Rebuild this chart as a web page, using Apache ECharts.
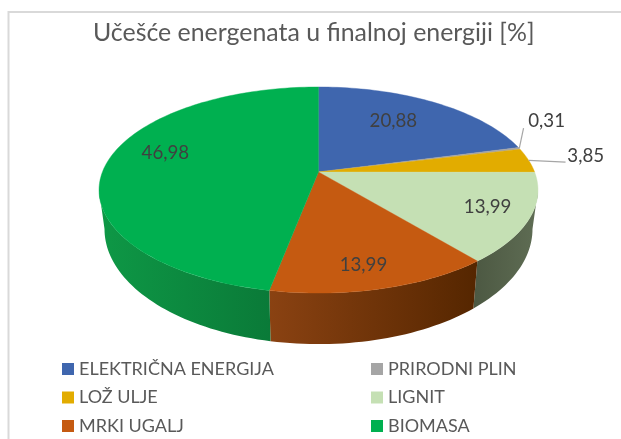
<!DOCTYPE html>
<html>
<head>
<meta charset="utf-8">
<style>html,body{margin:0;padding:0;background:#fff}#c{width:621px;height:439px}</style>
<script src="https://cdn.jsdelivr.net/npm/echarts@6/dist/echarts.min.js"></script>
</head>
<body>
<div id="c"></div>
<script>
// ---- data ----
const categories = ['ELEKTRIČNA ENERGIJA','PRIRODNI PLIN','LOŽ ULJE','LIGNIT','MRKI UGALJ','BIOMASA'];
const values = [20.88, 0.31, 3.85, 13.99, 13.99, 46.98];
const titleText = 'Učešće energenata u finalnoj energiji [%]';

// ---- styling ----
const colors = ['#3F66AE','#A5A5A5','#E2AC00','#C5E0B4','#C55A11','#00B050'];
const wallColors = [
  ['#2a4575','#2a4575'],['#6f6f6f','#6f6f6f'],['#8f6d00','#8f6d00'],
  ['#4c5842','#5f6d54'],['#8a4212','#552600'],['#0e9846','#0a7a38']
];
// label anchor on the disc: radius factor and angle shift (deg) from the slice's middle
const labelAnchor = [[0.677,-3.4],[1.287,-11.5],[1.283,-0.6],[0.808,-1.2],[0.82,1.7],[0.759,9.6]];
// leader end on the disc for the slices labelled outside
const leaderAnchor = [null,[1.133,-10.6],[1.168,1.8],null,null,null];

// projection of the pie disc (perspective)
const cx = 318.5, K = 0.1748;
const topDisc = { cy: 172, a: 216.1, b: 99.9 };
const botDisc = { cy: 209, a: 210.7, b: 111.5 };
const rimFrom = 100, rimTo = 260; // the part of the rim that faces the viewer
function proj(deg, r, d) {
  const t = deg * Math.PI / 180, u = r * Math.sin(t), v = -r * Math.cos(t), w = 1 - K * v;
  return [cx + d.a * u / w, d.cy + d.b * v / w];
}
const total = values.reduce((a, b) => a + b, 0);
function range(i) {
  let s = 0;
  for (let j = 0; j < i; j++) s += values[j];
  return [s / total * 360, (s + values[i]) / total * 360];
}
function arc(a0, a1, d) {
  const n = Math.max(2, Math.ceil((a1 - a0) / 1.5)), out = [];
  for (let k = 0; k <= n; k++) out.push(proj(a0 + (a1 - a0) * k / n, 1, d));
  return out;
}
function renderSlice(i) {
  return function () {
    const [a0, a1] = range(i), mid = (a0 + a1) / 2, kids = [];
    const w0 = Math.max(a0, rimFrom), w1 = Math.min(a1, rimTo);
    if (w1 > w0) {
      const pts = arc(w0, w1, topDisc).concat(arc(w0, w1, botDisc).reverse());
      kids.push({
        type: 'polygon', z2: 1, shape: { points: pts },
        style: { fill: new echarts.graphic.LinearGradient(0, 0, 1, 0, [
          { offset: 0, color: wallColors[i][0] }, { offset: 1, color: wallColors[i][1] }
        ]) }
      });
    }
    kids.push({
      type: 'polygon', z2: 10,
      shape: { points: [[cx, topDisc.cy]].concat(arc(a0, a1, topDisc)) },
      style: { fill: colors[i], stroke: colors[i], lineWidth: 0.4 }
    });
    if (leaderAnchor[i]) {
      const e = proj(mid, 1, topDisc), l = proj(mid + leaderAnchor[i][1], leaderAnchor[i][0], topDisc);
      kids.push({
        type: 'polyline', z2: 20, shape: { points: [e, l] },
        style: { fill: null, stroke: '#a6a6a6', lineWidth: 1.2 }
      });
    }
    const p = proj(mid + labelAnchor[i][1], labelAnchor[i][0], topDisc);
    kids.push({
      type: 'text', z2: 30, x: p[0], y: p[1],
      style: {
        text: values[i].toFixed(2).replace('.', ','),
        fill: '#404040', font: '18.7px Lato', align: 'center', verticalAlign: 'middle'
      }
    });
    return { type: 'group', children: kids };
  };
}
const legendBase = {
  orient: 'vertical', top: 359, padding: 0, itemWidth: 12, itemHeight: 12, itemGap: 8.5, icon: 'rect',
  textStyle: { color: '#595959', fontFamily: 'Lato', fontSize: 18, lineHeight: 20 }
};
const chart = echarts.init(document.getElementById('c'), null, { renderer: 'canvas' });
chart.setOption({
  animation: false,
  backgroundColor: '#ffffff',
  title: {
    text: titleText, left: 88, top: 15,
    textStyle: { color: '#595959', fontFamily: 'Lato', fontWeight: 'normal', fontSize: 24.9 }
  },
  legend: [
    Object.assign({}, legendBase, { left: 62, data: [categories[0], categories[2], categories[4]] }),
    Object.assign({}, legendBase, { left: 371, data: [categories[1], categories[3], categories[5]] })
  ],
  graphic: [{
    type: 'polyline', silent: true, z: -1,
    shape: { points: [[8.5, 439], [8.5, 12], [621, 12]] },
    style: { fill: null, stroke: '#d9d9d9', lineWidth: 2 }
  }],
  series: categories.map((name, i) => ({
    type: 'custom', name, coordinateSystem: 'none',
    itemStyle: { color: colors[i] },
    data: [[values[i]]],
    renderItem: renderSlice(i)
  }))
});
</script>
</body>
</html>
